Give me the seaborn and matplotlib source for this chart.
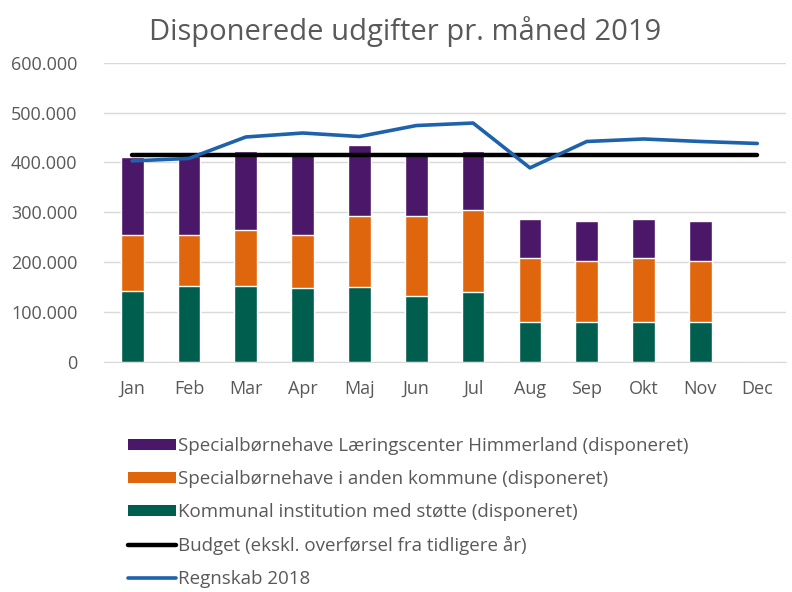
import numpy as np
import pandas as pd
import matplotlib
matplotlib.use("Agg")
import matplotlib.pyplot as plt
import matplotlib.ticker as mticker
from matplotlib.patches import Patch
from matplotlib.lines import Line2D
import seaborn as sns

# data
months = ["Jan", "Feb", "Mar", "Apr", "Maj", "Jun", "Jul", "Aug", "Sep", "Okt", "Nov", "Dec"]
kommunal = [141000, 151000, 151000, 147000, 150000, 132000, 140000, 79000, 79000, 79000, 79000, 0]
anden_kommune = [113000, 103000, 114000, 108000, 143000, 161000, 164000, 129000, 124000, 129000, 124000, 0]
laeringscenter = [157000, 158000, 157000, 160000, 141000, 125000, 118000, 79000, 79000, 79000, 79000, 0]
budget = [415000] * 12
regnskab_2018 = [403000, 408000, 451000, 459000, 452000, 474000, 479000, 389000, 442000, 447000, 442000, 438000]

labels = [
    "Specialbørnehave Læringscenter Himmerland (disponeret)",
    "Specialbørnehave i anden kommune (disponeret)",
    "Kommunal institution med støtte (disponeret)",
    "Budget (ekskl. overførsel fra tidligere år)",
    "Regnskab 2018",
]
c_purple = "#4b1768"
c_orange = "#e0660e"
c_green = "#005e4e"
c_blue = "#1d62ab"

df = pd.DataFrame({"month": months, "kommunal": kommunal,
                   "anden": anden_kommune, "laering": laeringscenter})
df["lvl1"] = df["kommunal"]
df["lvl2"] = df["lvl1"] + df["anden"]
df["lvl3"] = df["lvl2"] + df["laering"]

sns.set_style("white")
plt.rcParams["font.family"] = ["Open Sans", "DejaVu Sans"]

fig = plt.figure(figsize=(7.92, 5.92), dpi=100)
ax = fig.add_axes([0.131, 0.389, 0.861, 0.505])

# stacked bars: draw totals first, then smaller levels on top
for col, color in [("lvl3", c_purple), ("lvl2", c_orange), ("lvl1", c_green)]:
    sns.barplot(data=df, x="month", y=col, color=color, width=0.4,
                saturation=1, order=months, ax=ax, zorder=2)

xpos = np.arange(len(months))
sns.lineplot(x=xpos, y=budget, color="black", linewidth=3.2, ax=ax, zorder=3)
sns.lineplot(x=xpos, y=regnskab_2018, color=c_blue, linewidth=2.6, ax=ax, zorder=4)

ax.set_xlim(-0.5, 11.5)
ax.set_ylim(0, 600000)
ax.yaxis.set_major_locator(mticker.MultipleLocator(100000))
ax.yaxis.set_major_formatter(mticker.FuncFormatter(
    lambda v, p: "0" if v == 0 else f"{int(v):,}".replace(",", ".")))
ax.grid(axis="y", color="#d9d9d9", linewidth=1, zorder=0)
ax.set_axisbelow(True)
for s in ["top", "right", "left"]:
    ax.spines[s].set_visible(False)
ax.spines["bottom"].set_color("#d9d9d9")
ax.tick_params(axis="both", length=0, labelsize=13, labelcolor="#595959")
ax.tick_params(axis="x", pad=13)
ax.tick_params(axis="y", pad=19)
ax.set_xlabel("")
ax.set_ylabel("")

fig.text(0.511, 0.946, "Disponerede udgifter pr. måned 2019", ha="center",
         va="center", fontsize=21, color="#595959")

handles = [
    Patch(facecolor=c_purple, edgecolor="none"),
    Patch(facecolor=c_orange, edgecolor="none"),
    Patch(facecolor=c_green, edgecolor="none"),
    Line2D([0], [0], color="black", linewidth=3.2),
    Line2D([0], [0], color=c_blue, linewidth=2.6),
]
fig.legend(handles, labels, loc="upper left", bbox_to_anchor=(0.152, 0.274),
           frameon=False, fontsize=13.5, labelcolor="#595959",
           handlelength=2.55, handleheight=0.5, handletextpad=0.12,
           labelspacing=0.8, borderaxespad=0)

fig.savefig("out.png", dpi=100)
